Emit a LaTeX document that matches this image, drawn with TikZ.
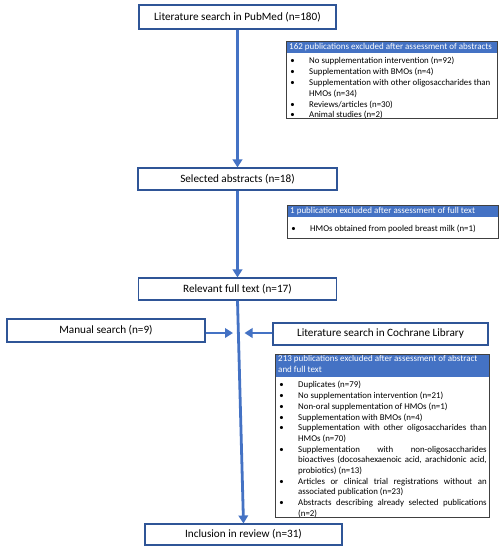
\documentclass[tikz,border=0pt]{standalone}
\usepackage{fontspec}
\setmainfont{Carlito}
\usetikzlibrary{arrows.meta}
\definecolor{arrblue}{HTML}{4472C4}
\definecolor{boxblue}{HTML}{2F5597}
\definecolor{hdrblue}{HTML}{4472C4}
\definecolor{exgray}{HTML}{404040}
\newcommand{\exlist}[1]{\begin{list}{\textbullet}{\setlength{\leftmargin}{20.5pt}\setlength{\labelwidth}{6pt}\setlength{\labelsep}{14.5pt}\setlength{\itemsep}{0pt}\setlength{\parsep}{0pt}\setlength{\topsep}{0pt}\setlength{\partopsep}{0pt}\setlength{\itemindent}{0pt}}#1\end{list}}
\begin{document}
\begin{tikzpicture}[x=1pt,y=-1pt,
  mbox/.style={draw=boxblue, line width=1.1pt, fill=white, inner sep=0pt, font=\fontsize{11.2}{13}\selectfont},
  arr/.style={draw=arrblue, line width=2.8pt, -{Triangle[width=9.5pt,length=8pt]}},
  htext/.style={inner sep=0pt, text=white, font=\fontsize{9}{10.9}\selectfont, align=left},
  btext/.style={inner xsep=2.5pt, inner ysep=0pt, font=\fontsize{8.85}{10.85}\selectfont, align=justify},
  exborder/.style={draw=exgray, line width=0.9pt},
  hfill/.style={fill=hdrblue}
]
\useasboundingbox (0,0) rectangle (502,550);
\fill[white] (0,0) rectangle (502,550);

% main boxes
\node[mbox, minimum width=197pt, minimum height=24pt] (pub) at (237.5,17) {Literature search in PubMed (n=180)};
\node[mbox, minimum width=199pt, minimum height=22pt] (sel) at (237.5,179) {Selected abstracts (n=18)};
\node[mbox, minimum width=198pt, minimum height=22pt] (rel) at (237.5,289) {Relevant full text (n=17)};
\node[mbox, minimum width=198pt, minimum height=23pt] (man) at (106,330.5) {Manual search (n=9)};
\node[mbox, minimum width=215pt, minimum height=22pt] (coch) at (380.5,334) {Literature search in Cochrane Library};
\node[mbox, minimum width=197pt, minimum height=21pt] (inc) at (243.5,534.5) {Inclusion in review (n=31)};

% arrows
\draw[arr] (pub) -- (sel);
\draw[arr] (sel) -- (rel);
\draw[arr] (rel.south) -- (inc.north);
\coordinate (tipL) at (233,333);
\coordinate (tipR) at (244.5,333);
\draw[arr] (man.east |- tipL) -- (tipL);
\draw[arr] (coch.west |- tipR) -- (tipR);

% exclusion box 1
\fill[hfill] (286,41) rectangle (497,52.5);
\node[htext, anchor=west] (ex1h) at (289,46.8) {162 publications excluded after assessment of abstracts};
\node[btext, anchor=north west, text width=206pt, minimum height=66.5pt] (ex1b) at (286,52.5) {\raggedright\exlist{%
\item No supplementation intervention (n=92)
\item Supplementation with BMOs (n=4)
\item Supplementation with other oligosaccharides than HMOs (n=34)
\item Reviews/articles (n=30)
\item Animal studies (n=2)}};
\draw[exborder] (286,41) rectangle (497,118);

% exclusion box 2
\fill[hfill] (287,205) rectangle (498,217);
\node[htext, anchor=west] (ex2h) at (290,211) {1 publication excluded after assessment of full text};
\node[btext, anchor=north west, text width=206pt] (ex2b) at (287,220) {\exlist{%
\item HMOs obtained from pooled breast milk (n=1)}};
\draw[exborder] (287,205) rectangle (498,238);

% exclusion box 3
\fill[hfill] (275,354) rectangle (489,377);
\node[htext, anchor=north west] (ex3h) at (278,355) {213 publications excluded after assessment of abstract\\and full text};
\node[btext, anchor=north west, text width=209pt, minimum height=137pt, font=\fontsize{8.85}{10.7}\selectfont] (ex3b) at (275,377) {\tolerance=9999\exhyphenpenalty=10000\hyphenpenalty=10000\exlist{%
\item Duplicates (n=79)
\item No supplementation intervention (n=21)
\item Non-oral supplementation of HMOs (n=1)
\item Supplementation with BMOs (n=4)
\item Supplementation with other oligosaccharides than HMOs (n=70)
\item Supplementation with non-oligosaccharides bioactives (docosahexaenoic acid, arachidonic acid, probiotics) (n=13)
\item Articles or clinical trial registrations without an associated publication (n=23)
\item Abstracts describing already selected publications (n=2)}};
\draw[exborder] (275,354) rectangle (489,517);
\end{tikzpicture}
\end{document}
